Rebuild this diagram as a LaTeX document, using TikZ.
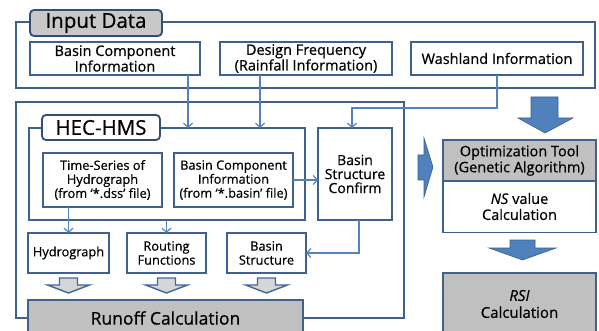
\documentclass[tikz,border=0pt]{standalone}
\usepackage{fontspec}
\setmainfont[FakeBold=0.6,ItalicFeatures={FakeBold=0.6}]{Open Sans}
\usetikzlibrary{arrows.meta}
\definecolor{frameblue}{RGB}{62,98,140}
\definecolor{lineblue}{RGB}{84,130,190}
\definecolor{arrowfill}{RGB}{79,129,189}
\definecolor{arrowdraw}{RGB}{58,96,142}
\definecolor{grayfill}{RGB}{192,192,192}
\definecolor{tabgray}{RGB}{200,200,200}
\definecolor{hollowfill}{RGB}{214,214,214}
\tikzset{
  frame/.style={draw=frameblue, line width=1.8pt, inner sep=0pt, outer sep=0pt},
  tabbox/.style={draw=frameblue!80!black, line width=1.8pt, rounded corners=4pt, inner sep=0pt, outer sep=0pt, font=\fontsize{20.5}{22}\selectfont},
  box/.style={draw=frameblue, line width=1.6pt, fill=white, inner sep=0pt, outer sep=0pt, align=center, text=black},
  topbox/.style={box, font=\fontsize{14.5}{14}\selectfont},
  smallbox/.style={box, font=\fontsize{12.8}{14}\selectfont},
  optbox/.style={box, font=\fontsize{14.5}{16}\selectfont},
  conn/.style={draw=lineblue, line width=1.2pt, -{Straight Barb[length=4pt,width=9pt,line width=1.2pt]}},
  bluearrow/.style={fill=arrowfill, draw=arrowdraw, line width=0.6pt},
  hollowdown/.pic={\draw[fill=hollowfill, draw=frameblue!85!lineblue, line width=1.4pt, line join=miter]
     (-9,5) -- (9,5) -- (9,12) -- (21,12) -- (0,20) -- (-21,12) -- (-9,12) -- cycle;}
}
\begin{document}
\begin{tikzpicture}[x=1pt,y=-1pt]
\useasboundingbox (0,0) rectangle (599,331);
\fill[white] (0,0) rectangle (599,331);

% frames
\node[frame, minimum width=579pt, minimum height=66pt] (infr) at (305.5,55) {};
\node[frame, minimum width=388pt, minimum height=216pt] (mdfr) at (210,210) {};
\node[frame, minimum width=276pt, minimum height=92pt] (hecfr) at (167,174) {};

% tabs
\node[tabbox, fill=tabgray, minimum width=132pt, minimum height=26pt] (intab) at (96,23) {Input Data};
\node[tabbox, fill=white, minimum width=118pt, minimum height=25pt] (hectab) at (101,127.5) {HEC-HMS};

% input boxes
\node[topbox, minimum width=170pt, minimum height=33pt] (bci) at (115,58.5) {Basin Component\\Information};
\node[topbox, minimum width=172pt, minimum height=33pt] (dfr) at (306,58.5) {Design Frequency\\(Rainfall Information)};
\node[topbox, minimum width=172pt, minimum height=33pt] (wsh) at (497,58.5) {Washland Information};

% HEC-HMS inner boxes
\node[smallbox, minimum width=119pt, minimum height=54pt] (ts) at (102.5,180) {Time-Series of\\Hydrograph\\(from ‘*.dss’ file)};
\node[smallbox, minimum width=119pt, minimum height=54pt] (bci2) at (233.5,180) {Basin Component\\Information\\(from ‘*.basin’ file)};
\node[box, font=\fontsize{14}{14}\selectfont, minimum width=74pt, minimum height=92pt] (bsc) at (355,174) {Basin\\Structure\\Confirm};

\node[smallbox, minimum width=81pt, minimum height=40pt] (hyd) at (68.5,253) {Hydrograph};
\node[smallbox, minimum width=79pt, minimum height=40pt] (rout) at (166.5,253) {Routing\\Functions};
\node[smallbox, minimum width=79pt, minimum height=40pt] (bst) at (266.5,253) {Basin\\Structure};

% runoff
\node[box, fill=grayfill, font=\fontsize{17.5}{18}\selectfont, minimum width=275pt, minimum height=36pt] (runoff) at (165.5,318) {Runoff Calculation};

% hollow arrows
\pic at (hyd.south) {hollowdown};
\pic at (rout.south) {hollowdown};
\pic at (bst.south) {hollowdown};

% optimization
\node[optbox, minimum width=153pt, minimum height=52pt] (optB) at (519.5,206.5) {\textit{NS} value\\Calculation};
\node[optbox, fill=grayfill, minimum width=153pt, minimum height=41pt] (optA) at (519.5,160.5) {Optimization Tool\\(Genetic Algorithm)};
\node[optbox, fill=grayfill, font=\fontsize{15}{17}\selectfont, minimum width=153pt, minimum height=62pt] (rsi) at (519.5,304) {\textit{RSI}\\Calculation};

% connectors
\draw[conn] ([xshift=-12pt]bci.south east) -- ([xshift=-12pt]bci.south east |- hecfr.north);
\draw[conn] ([xshift=40pt]dfr.south west) -- ([xshift=40pt]dfr.south west |- hecfr.north);
\draw[conn] (wsh.south) -- ++(0,33) -| ([xshift=-3pt]bsc.north);
\draw[conn] (bci2.east) -- (bci2.east -| bsc.west);
\draw[conn] (hyd.north |- ts.south) -- (hyd.north);
\draw[conn] (rout.north |- hecfr.south) -- (rout.north);
\draw[conn] ([xshift=4pt]bsc.south) |- (bst.east);

% blue block arrows
\draw[bluearrow] (531,97) -- (558,97) -- (558,118) -- (573,118) -- (545,133) -- (518,118) -- (531,118) -- cycle;
\draw[bluearrow] (510,240) -- (535,240) -- (535,248) -- (556,248) -- (522.5,260) -- (489,248) -- (510,248) -- cycle;
\draw[bluearrow] (418,155) -- (424,155) -- (424,138) -- (433,167) -- (424,197) -- (424,180) -- (418,180) -- cycle;
\end{tikzpicture}
\end{document}
